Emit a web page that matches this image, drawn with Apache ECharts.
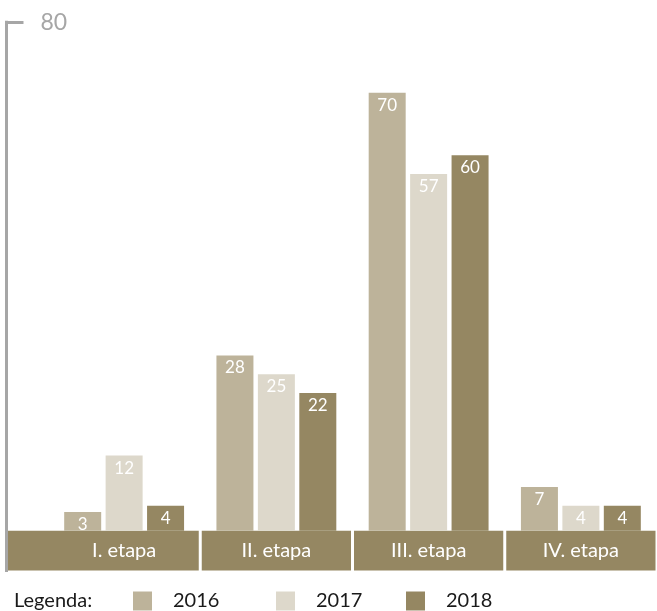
<!DOCTYPE html>
<html>
<head>
<meta charset="utf-8">
<title>Etapy 2016–2018</title>
<script src="https://cdn.jsdelivr.net/npm/echarts@6/dist/echarts.min.js"></script>
<style>
  html, body { margin: 0; padding: 0; background: #ffffff; }
  #chart { width: 657px; height: 611px; }
</style>
</head>
<body>
<div id="chart"></div>
<script>
// Categories and yearly values
const categories = ['I. etapa', 'II. etapa', 'III. etapa', 'IV. etapa'];
const years = ['2016', '2017', '2018'];
const values2016 = [3, 28, 70, 7];
const values2017 = [12, 25, 57, 4];
const values2018 = [4, 22, 60, 4];
const yTickLabels = ['80'];
const legendTitle = 'Legenda:';

// Value axis range: the band under the bars sits below zero,
// the top tick marks the end of the axis.
const Y_MIN = -6.36;
const Y_MAX = 81.25;
const AXIS_OFFSET = 41.5;

const colors = ['#bdb39a', '#ddd8cb', '#958762'];
const bandColor = '#958762';
const FONT = 'Lato, "Open Sans", sans-serif';

const chart = echarts.init(document.getElementById('chart'), null, { renderer: 'canvas' });

const seriesValues = [values2016, values2017, values2018];

const barSeries = years.map((year, i) => ({
  name: year,
  type: 'bar',
  data: seriesValues[i],
  barWidth: 37,
  barGap: '12%',
  itemStyle: { color: colors[i] },
  z: 3,
  label: {
    show: true,
    position: 'insideTop',
    distance: 4,
    color: '#ffffff',
    fontSize: 17,
    fontFamily: FONT
  }
}));

// Category band drawn below the zero line
const bandSeries = {
  type: 'custom',
  name: 'band',
  silent: true,
  z: 1,
  data: categories.map((c, i) => [i]),
  encode: { x: 0 },
  renderItem: function (params, api) {
    const idx = api.value(0);
    const catWidth = api.size([1, 0])[0];
    const top = api.coord([idx, 0]);
    const bottom = api.coord([idx, Y_MIN]);
    let x0 = top[0] - catWidth / 2 + 1.5;
    const x1 = top[0] + catWidth / 2 - 1.5;
    if (idx === 0) {
      x0 = params.coordSys.x - AXIS_OFFSET + 1.5;
    }
    return {
      type: 'rect',
      shape: { x: x0, y: top[1], width: x1 - x0, height: bottom[1] - top[1] },
      style: { fill: bandColor }
    };
  }
};

const legendLefts = [133, 276, 406];

chart.setOption({
  animation: false,
  backgroundColor: '#ffffff',
  textStyle: { fontFamily: FONT },
  title: {
    text: legendTitle,
    left: 14,
    top: 591,
    padding: 0,
    textStyle: {
      fontSize: 20,
      fontWeight: 'normal',
      color: '#1a1a1a',
      fontFamily: FONT,
      lineHeight: 20
    }
  },
  legend: years.map((year, i) => ({
    data: [year],
    left: legendLefts[i],
    top: 591,
    padding: 0,
    icon: 'rect',
    itemWidth: 19,
    itemHeight: 19,
    selectedMode: false,
    textStyle: {
      fontSize: 20,
      color: '#1a1a1a',
      fontFamily: FONT,
      padding: [0, 0, 0, 16]
    }
  })),
  grid: {
    left: 48,
    right: -1,
    top: 22.3,
    bottom: 611 - 570.5,
    containLabel: false
  },
  xAxis: {
    type: 'category',
    data: categories,
    z: 10,
    axisLine: { show: false },
    axisTick: { show: false },
    splitLine: { show: false },
    axisLabel: {
      color: '#ffffff',
      fontSize: 20,
      margin: -30,
      fontFamily: FONT
    }
  },
  yAxis: {
    type: 'value',
    min: Y_MIN,
    max: Y_MAX,
    offset: AXIS_OFFSET,
    splitLine: { show: false },
    axisLine: {
      show: true,
      lineStyle: { color: '#a6a6a6', width: 3, cap: 'square' }
    },
    axisTick: {
      show: true,
      inside: true,
      length: 17,
      customValues: [Y_MAX],
      lineStyle: { color: '#a6a6a6', width: 3 }
    },
    axisLabel: {
      show: true,
      inside: true,
      margin: 34,
      customValues: [Y_MAX],
      formatter: function () { return yTickLabels[0]; },
      color: '#a6a6a6',
      fontSize: 23,
      fontFamily: FONT
    }
  },
  series: [bandSeries].concat(barSeries)
});
</script>
</body>
</html>
